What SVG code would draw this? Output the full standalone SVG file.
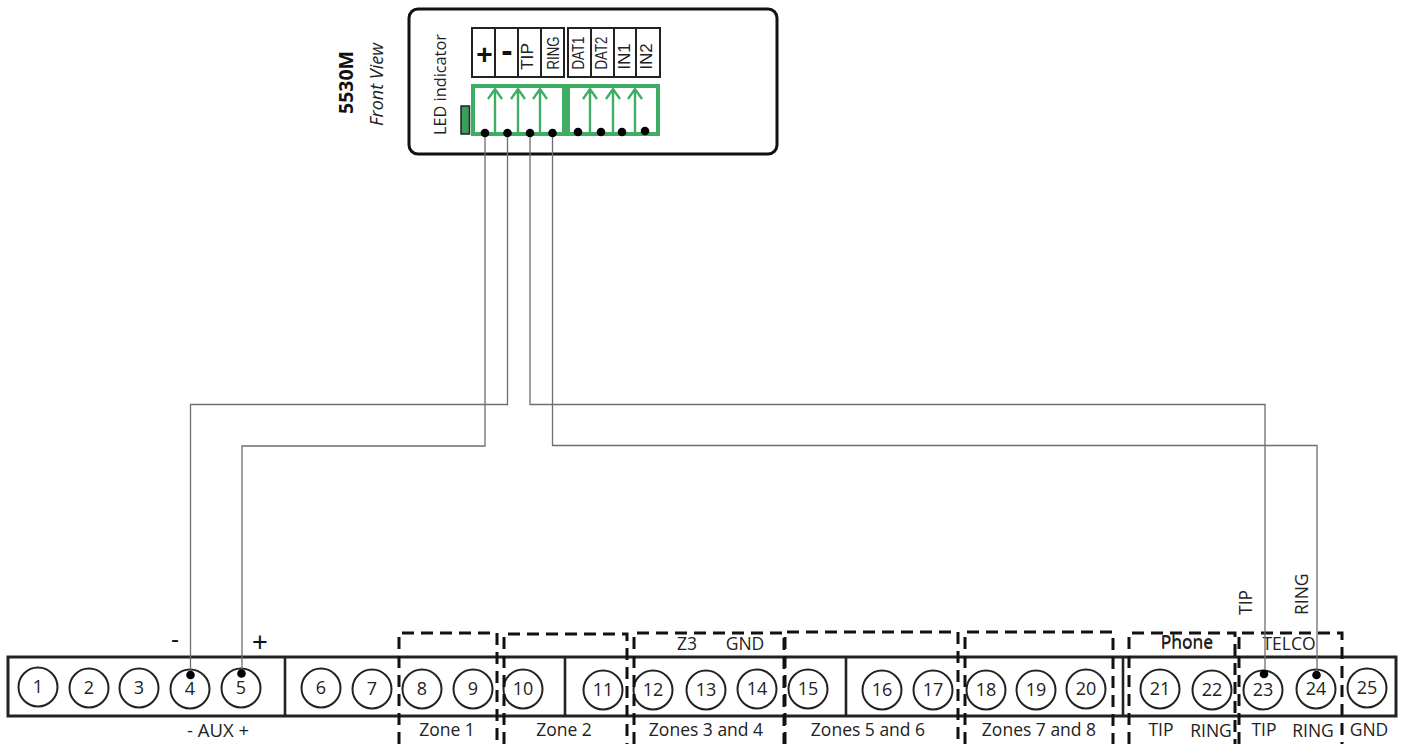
<svg xmlns="http://www.w3.org/2000/svg" width="1404" height="744" viewBox="0 0 1404 744">
<style>
text{font-family:"Open Sans","Liberation Sans",sans-serif;fill:#222}
.n{font-size:18px;text-anchor:middle}
.l{font-size:17.5px;text-anchor:middle}
.v{font-family:"Liberation Sans",Arial,sans-serif;font-size:16px}
.p{font-family:"Liberation Sans",Arial,sans-serif;text-anchor:middle;fill:#111}
.c{fill:#fff;stroke:#222;stroke-width:2}
.b{fill:#fff;stroke:#222;stroke-width:2}
.g{fill:none;stroke:#3fae65;stroke-width:4}
.a{fill:none;stroke:#3fae65;stroke-width:2.4}
.w{fill:none;stroke:#6e6e6e;stroke-width:1.3}
.d{fill:#000}
.z{fill:none;stroke:#111;stroke-width:3;stroke-dasharray:12 7}
.s{fill:#fff;stroke:#222;stroke-width:3}
.t{stroke:#222;stroke-width:2.6;fill:none}
</style>
<g id="terminal-strip">
<rect class="s" x="8" y="657" width="1388" height="59"/>
<path class="t" d="M285 657V716M565 657V716M846 657V716M1123 657V716"/>
</g>
<g id="t1"><circle class="c" cx="38" cy="687" r="19.5"/><text class="n" x="38" y="693">1</text></g>
<g id="t2"><circle class="c" cx="89" cy="688" r="19.5"/><text class="n" x="89" y="694">2</text></g>
<g id="t3"><circle class="c" cx="139" cy="688" r="19.5"/><text class="n" x="139" y="694">3</text></g>
<g id="t4"><circle class="c" cx="190" cy="689" r="19.5"/><text class="n" x="190" y="695">4</text></g>
<g id="t5"><circle class="c" cx="241" cy="688" r="19.5"/><text class="n" x="241" y="694">5</text></g>
<g id="t6"><circle class="c" cx="321" cy="688" r="19.5"/><text class="n" x="321" y="694">6</text></g>
<g id="t7"><circle class="c" cx="372" cy="689" r="19.5"/><text class="n" x="372" y="695">7</text></g>
<g id="t8"><circle class="c" cx="422" cy="689" r="19.5"/><text class="n" x="422" y="695">8</text></g>
<g id="t9"><circle class="c" cx="473" cy="689" r="19.5"/><text class="n" x="473" y="695">9</text></g>
<g id="t10"><circle class="c" cx="523" cy="689" r="19.5"/><text class="n" x="523" y="695">10</text></g>
<g id="t11"><circle class="c" cx="603" cy="690" r="19.5"/><text class="n" x="603" y="696">11</text></g>
<g id="t12"><circle class="c" cx="653" cy="690" r="19.5"/><text class="n" x="653" y="696">12</text></g>
<g id="t13"><circle class="c" cx="706" cy="690" r="19.5"/><text class="n" x="706" y="696">13</text></g>
<g id="t14"><circle class="c" cx="757" cy="689" r="19.5"/><text class="n" x="757" y="695">14</text></g>
<g id="t15"><circle class="c" cx="808" cy="689" r="19.5"/><text class="n" x="808" y="695">15</text></g>
<g id="t16"><circle class="c" cx="882" cy="690" r="19.5"/><text class="n" x="882" y="696">16</text></g>
<g id="t17"><circle class="c" cx="933" cy="690" r="19.5"/><text class="n" x="933" y="696">17</text></g>
<g id="t18"><circle class="c" cx="986" cy="690" r="19.5"/><text class="n" x="986" y="696">18</text></g>
<g id="t19"><circle class="c" cx="1036" cy="690" r="19.5"/><text class="n" x="1036" y="696">19</text></g>
<g id="t20"><circle class="c" cx="1086" cy="689" r="19.5"/><text class="n" x="1086" y="695">20</text></g>
<g id="t21"><circle class="c" cx="1160" cy="689" r="19.5"/><text class="n" x="1160" y="695">21</text></g>
<g id="t22"><circle class="c" cx="1212" cy="690" r="19.5"/><text class="n" x="1212" y="696">22</text></g>
<g id="t23"><circle class="c" cx="1263" cy="690" r="19.5"/><text class="n" x="1263" y="696">23</text></g>
<g id="t24"><circle class="c" cx="1316" cy="689" r="19.5"/><text class="n" x="1316" y="695">24</text></g>
<g id="t25"><circle class="c" cx="1367" cy="688" r="19.5"/><text class="n" x="1367" y="694">25</text></g>
<g id="zones">
<path class="z" d="M399 744V633H497V744"/>
<path class="z" d="M504 744V634H627V744"/>
<path class="z" d="M634 744V633H784V744"/>
<path class="z" d="M785 744V632H958V744"/>
<path class="z" d="M965 744V632H1113V744"/>
<path class="z" d="M1129 744V633H1235V744"/>
<path class="z" d="M1239 744V633H1342V744"/>
</g>
<g id="strip-labels">
<text class="p" x="175" y="647" font-size="24">-</text>
<text class="p" x="260" y="651" font-size="27">+</text>
<text class="l" x="218" y="737" style="font-size:18.5px">- AUX +</text>
<text class="l" x="447" y="736">Zone 1</text>
<text class="l" x="564" y="736">Zone 2</text>
<text class="l" x="706" y="736">Zones 3 and 4</text>
<text class="l" x="868" y="736">Zones 5 and 6</text>
<text class="l" x="1039" y="736">Zones 7 and 8</text>
<text class="l" x="1161" y="736">TIP</text>
<text class="l" x="1211" y="737">RING</text>
<text class="l" x="1264" y="736">TIP</text>
<text class="l" x="1313" y="737">RING</text>
<text class="l" x="1369" y="736">GND</text>
<text class="l" x="687" y="650">Z3</text>
<text class="l" x="745" y="650">GND</text>
<text class="l" x="1187" y="647.500">Phone</text>
<text class="l" x="1187" y="649">Phone</text>
<text class="l" x="1289" y="650">TELCO</text>
<text class="l" transform="translate(1252 615) rotate(-90)" style="text-anchor:start">TIP</text>
<text class="l" transform="translate(1308 615) rotate(-90)" style="text-anchor:start">RING</text>
</g>
<g id="device-5530M">
<rect x="409" y="9" width="368" height="145" rx="9" fill="#fff" stroke="#111" stroke-width="3"/>
<text transform="translate(353 114) rotate(-90)" font-size="19.500" font-weight="700" style="fill:#111">5530M</text>
<text transform="translate(383 126) rotate(-90)" font-size="18" font-style="italic">Front View</text>
<text transform="translate(446 135) rotate(-90)" font-size="16.300">LED indicator</text>
<rect x="461" y="106" width="8.500" height="28" fill="#3a9d5a" stroke="#222" stroke-width="1.500"/>
<g id="term-labels">
<rect class="b" x="472" y="28" width="92" height="49"/>
<rect class="b" x="568" y="28" width="92" height="49"/>
<path class="b" d="M495 28V77M518 28V77M541 28V77M591 28V77M614 28V77M636 28V77"/>
<text class="p" x="484.500" y="64" font-size="28" font-weight="700">+</text>
<text class="p" x="507" y="62" font-size="34" font-weight="700">-</text>
<text class="v" transform="translate(533 70) rotate(-90)" textLength="27" lengthAdjust="spacingAndGlyphs">TIP</text>
<text class="v" transform="translate(559 69.500) rotate(-90)" textLength="33" lengthAdjust="spacingAndGlyphs">RING</text>
<text class="v" transform="translate(584 69.500) rotate(-90)" textLength="33" lengthAdjust="spacingAndGlyphs">DAT1</text>
<text class="v" transform="translate(607 69.500) rotate(-90)" textLength="33" lengthAdjust="spacingAndGlyphs">DAT2</text>
<text class="v" transform="translate(630 69.500) rotate(-90)" textLength="26" lengthAdjust="spacingAndGlyphs">IN1</text>
<text class="v" transform="translate(652 69.500) rotate(-90)" textLength="26" lengthAdjust="spacingAndGlyphs">IN2</text>
</g>
<g id="green-blocks">
<rect class="g" x="473" y="86" width="91" height="48"/>
<rect class="g" x="568" y="86" width="90" height="48"/>
<path class="a" d="M495 134V89M488 99L495 89L502 99M518 134V89M511 99L518 89L525 99M540 134V89M533 99L540 89L547 99M590 134V89M583 99L590 89L597 99M613 134V89M606 99L613 89L620 99M635 134V89M628 99L635 89L642 99"/>
</g>
</g>
<g id="connectors">
<path class="w" d="M485 133V446H242V673"/>
<path class="w" d="M507.500 133V404.500H190.500V675"/>
<path class="w" d="M530 133V404.500H1265V674"/>
<path class="w" d="M552.500 133V445.500H1317V674"/>
<circle class="d" cx="485" cy="133" r="4.300"/>
<circle class="d" cx="507.500" cy="133" r="4.300"/>
<circle class="d" cx="530" cy="133" r="4.300"/>
<circle class="d" cx="552.500" cy="133" r="4.300"/>
<circle class="d" cx="578" cy="132" r="4.300"/>
<circle class="d" cx="601" cy="132" r="4.300"/>
<circle class="d" cx="622" cy="132" r="4.300"/>
<circle class="d" cx="645" cy="131" r="4.300"/>
<circle class="d" cx="190.500" cy="675" r="4.300"/>
<circle class="d" cx="241.500" cy="673.500" r="4.300"/>
<circle class="d" cx="1264" cy="674" r="4.300"/>
<circle class="d" cx="1316.500" cy="675" r="4.300"/>
</g>
</svg>
